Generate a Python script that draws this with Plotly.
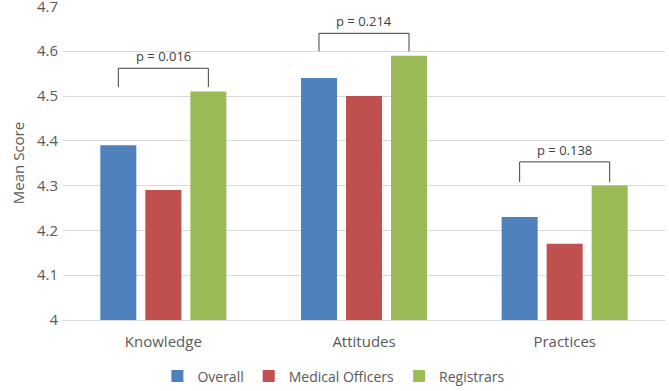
import plotly.graph_objects as go

categories = ["Knowledge", "Attitudes", "Practices"]
overall = [4.39, 4.54, 4.23]
medical_officers = [4.29, 4.50, 4.17]
registrars = [4.51, 4.59, 4.30]
p_labels = ["p = 0.016", "p = 0.214", "p = 0.138"]
bracket_top = [4.562, 4.64, 4.353]
bracket_bottom = [4.52, 4.60, 4.308]

colors = ["#4F81BD", "#C0504D", "#9BBB59"]
font_color = "#595959"
FONT = "Open Sans"

fig = go.Figure()
for name, vals, c in [("Overall", overall, colors[0]),
                      ("Medical Officers", medical_officers, colors[1]),
                      ("Registrars", registrars, colors[2])]:
    fig.add_trace(go.Bar(x=categories, y=vals, name=name, marker_color=c,
                         marker_line_width=0))

bargap = 0.327
slot = (1 - bargap) / 3
for i, (lab, top, bot) in enumerate(zip(p_labels, bracket_top, bracket_bottom)):
    x0 = i - slot
    x1 = i + slot
    fig.add_trace(go.Scatter(x=[x0, x0, x1, x1], y=[bot, top, top, bot],
                             mode="lines", line=dict(color="#404040", width=1),
                             showlegend=False, hoverinfo="skip", xaxis="x2"))
    fig.add_annotation(x=i, y=top, xref="x2", yref="y", text=lab,
                       showarrow=False, yanchor="bottom", yshift=1,
                       font=dict(size=13, color="#404040", family=FONT))

fig.update_layout(
    width=669, height=391,
    margin=dict(l=63, r=4, t=6, b=71, autoexpand=False),
    paper_bgcolor="white", plot_bgcolor="white",
    barmode="group", bargap=bargap, bargroupgap=0.2,
    font=dict(family=FONT, color=font_color, size=13),
    xaxis=dict(showgrid=False, showline=True, linecolor="#D9D9D9",
               tickfont=dict(size=15, color=font_color), ticks="",
               ticklabelstandoff=8),
    xaxis2=dict(overlaying="x", range=[-0.5, 2.5], visible=False),
    yaxis=dict(range=[4, 4.701], tickvals=[4, 4.1, 4.2, 4.3, 4.4, 4.5, 4.6, 4.7],
               ticktext=["4", "4.1", "4.2", "4.3", "4.4", "4.5", "4.6", "4.7"],
               showgrid=True, gridcolor="#D9D9D9", ticklabeloverflow="allow",
               zeroline=False, tickfont=dict(size=15, color=font_color),
               ticklabelstandoff=4,
               title=dict(text="Mean Score",
               font=dict(size=15, color=font_color), standoff=8)),
    legend=dict(orientation="h", x=0.45, xanchor="center", y=-0.18,
                yanchor="middle",
                font=dict(size=14, color=font_color)),
)
fig.write_html("out.html", config={"displayModeBar": False},
               post_script="document.body.style.margin='0';document.body.style.overflow='hidden';")
